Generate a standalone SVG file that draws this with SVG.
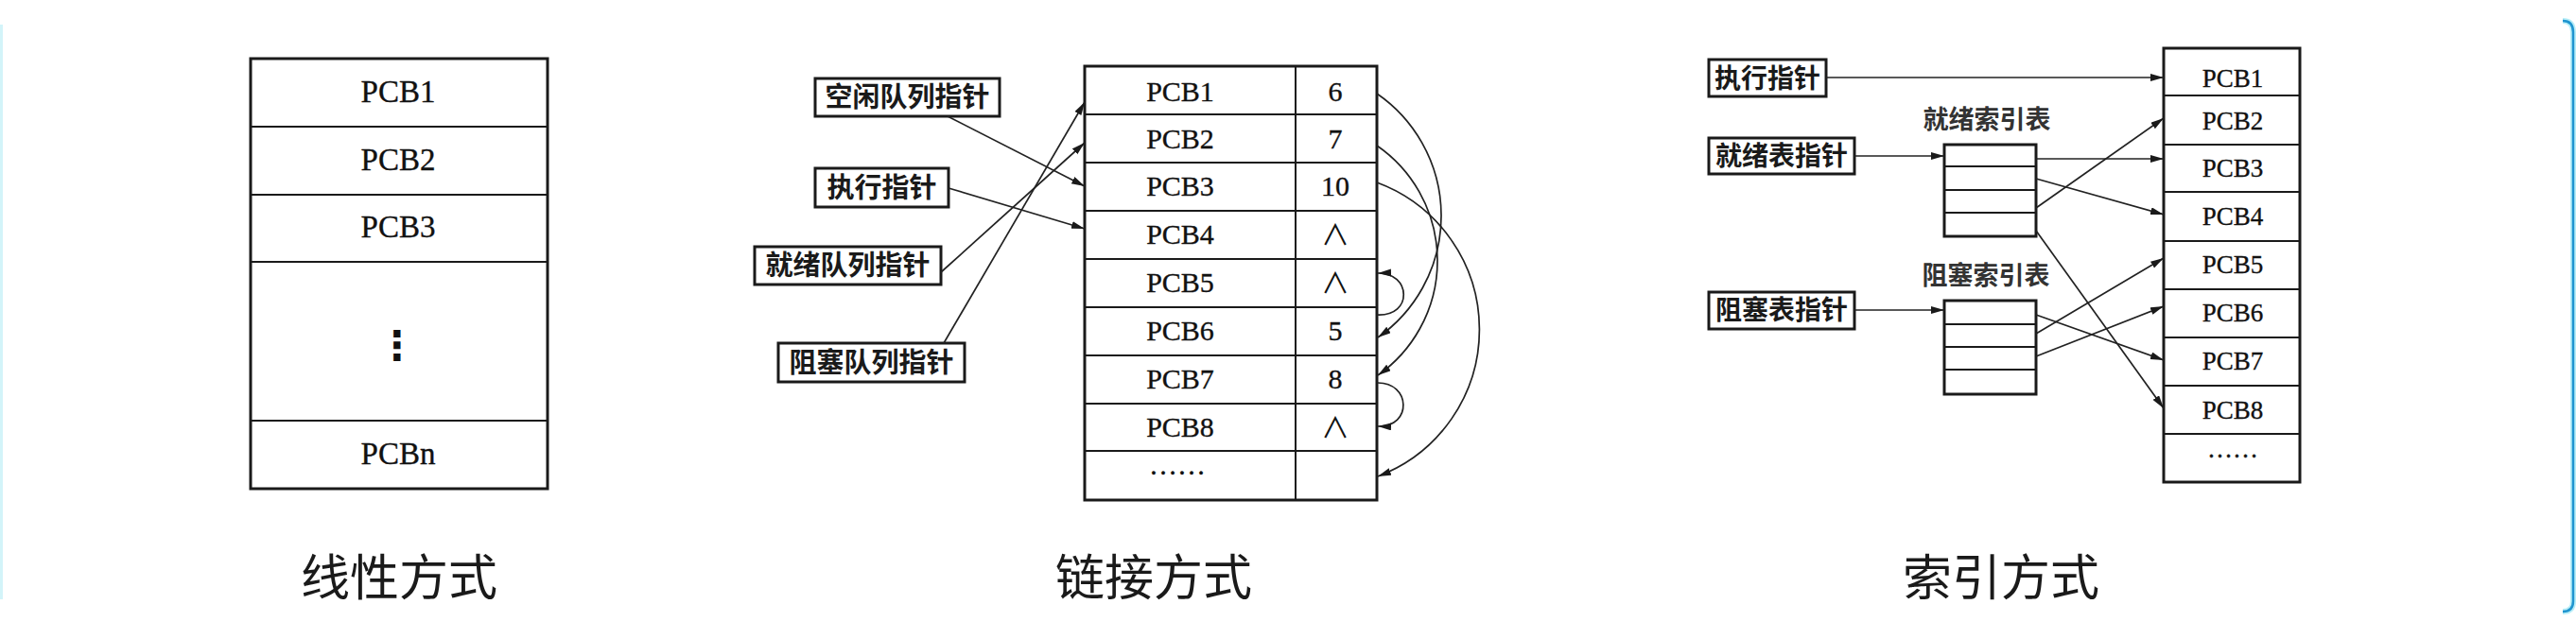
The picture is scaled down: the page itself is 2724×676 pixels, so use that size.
<svg xmlns="http://www.w3.org/2000/svg" width="2724" height="676" viewBox="0 0 2724 676">
<defs>
<style>
.pcb{font-family:"Liberation Serif","Times New Roman",serif;fill:#111;stroke:#111;stroke-width:0.35;text-anchor:middle}
.sym{font-family:"Noto Sans CJK SC","DejaVu Sans",sans-serif;fill:#111;text-anchor:middle}
.dots{font-family:"DejaVu Sans",sans-serif;fill:#111;text-anchor:middle;font-weight:bold}
.lbl{font-family:"Noto Sans CJK SC",sans-serif;font-weight:bold;fill:#1a1a1a;text-anchor:middle}
.tl{font-family:"Noto Sans CJK SC",sans-serif;font-weight:bold;fill:#333;text-anchor:middle;font-size:27px}
.cap{font-family:"Noto Sans CJK SC",sans-serif;font-size:52px;fill:#1a1a1a;text-anchor:middle}
.outer{fill:#fff;stroke:#1a1a1a;stroke-width:3}
.inner{stroke:#1a1a1a;stroke-width:2;fill:none}
.box{fill:#fff;stroke:#1a1a1a;stroke-width:3}
.conn{stroke:#222;stroke-width:1.7;fill:none;marker-end:url(#ah)}
</style>
<marker id="ah" markerUnits="userSpaceOnUse" markerWidth="16" markerHeight="10" refX="14" refY="4" orient="auto">
<path d="M0,0 L14,4 L0,8 z" fill="#1a1a1a"/>
</marker>
</defs>
<rect x="0" y="0" width="2724" height="676" fill="#fff"/>
<!-- frame edges -->
<line x1="1.5" y1="26" x2="1.5" y2="634" stroke="#d3f4f9" stroke-width="3"/>
<path d="M2710,22 Q2721,22 2721,34 L2721,636 Q2721,647 2710,647" fill="none" stroke="#b8eef8" stroke-width="6"/>
<path d="M2710,22 Q2721,22 2721,34 L2721,636 Q2721,647 2710,647" fill="none" stroke="#1f95d0" stroke-width="2.5"/>

<!-- Linear -->
<g id="linear-table">
<rect class="outer" x="265" y="62" width="314" height="455"/>
<line class="inner" x1="265" y1="134" x2="579" y2="134"/>
<line class="inner" x1="265" y1="206" x2="579" y2="206"/>
<line class="inner" x1="265" y1="277" x2="579" y2="277"/>
<line class="inner" x1="265" y1="445" x2="579" y2="445"/>
<text class="pcb" x="421" y="108" font-size="33">PCB1</text>
<text class="pcb" x="421" y="180" font-size="33">PCB2</text>
<text class="pcb" x="421" y="251" font-size="33">PCB3</text>
<text class="dots" x="420" y="380" font-size="42">⋮</text>
<text class="pcb" x="421" y="491" font-size="33">PCBn</text>
</g>
<g id="cap-linear"><text class="cap" x="422" y="630">线性方式</text></g>

<!-- Linked -->
<g id="linked-table">
<rect class="outer" x="1147" y="70" width="309" height="459"/>
<line class="inner" x1="1370" y1="70" x2="1370" y2="529"/>
<line class="inner" x1="1147" y1="121" x2="1456" y2="121"/>
<line class="inner" x1="1147" y1="172" x2="1456" y2="172"/>
<line class="inner" x1="1147" y1="223" x2="1456" y2="223"/>
<line class="inner" x1="1147" y1="274" x2="1456" y2="274"/>
<line class="inner" x1="1147" y1="325" x2="1456" y2="325"/>
<line class="inner" x1="1147" y1="376" x2="1456" y2="376"/>
<line class="inner" x1="1147" y1="427" x2="1456" y2="427"/>
<line class="inner" x1="1147" y1="477" x2="1456" y2="477"/>
<g font-size="30">
<text class="pcb" x="1248" y="107">PCB1</text><text class="pcb" x="1412" y="107">6</text>
<text class="pcb" x="1248" y="157">PCB2</text><text class="pcb" x="1412" y="157">7</text>
<text class="pcb" x="1248" y="207">PCB3</text><text class="pcb" x="1412" y="207">10</text>
<text class="pcb" x="1248" y="258">PCB4</text><text class="sym" x="1412" y="259">∧</text>
<text class="pcb" x="1248" y="309">PCB5</text><text class="sym" x="1412" y="310">∧</text>
<text class="pcb" x="1248" y="360">PCB6</text><text class="pcb" x="1412" y="360">5</text>
<text class="pcb" x="1248" y="411">PCB7</text><text class="pcb" x="1412" y="411">8</text>
<text class="pcb" x="1248" y="462">PCB8</text><text class="sym" x="1412" y="463">∧</text>
<text class="pcb" x="1245" y="502">……</text>
</g>
</g>
<g id="lk-free"><rect class="box" x="862" y="83" width="195" height="40"/><text class="lbl" x="959.5" y="113" font-size="29">空闲队列指针</text></g>
<g id="lk-run"><rect class="box" x="862" y="178" width="141" height="41"/><text class="lbl" x="932.5" y="209" font-size="29">执行指针</text></g>
<g id="lk-ready"><rect class="box" x="798" y="261" width="197" height="40"/><text class="lbl" x="896.5" y="291" font-size="29">就绪队列指针</text></g>
<g id="lk-block"><rect class="box" x="823" y="363" width="197" height="41"/><text class="lbl" x="921.5" y="394" font-size="29">阻塞队列指针</text></g>
<g id="cap-linked"><text class="cap" x="1220" y="630">链接方式</text></g>

<!-- Index -->
<g id="ix-run"><rect class="box" x="1807" y="63" width="124" height="39"/><text class="lbl" x="1869" y="93" font-size="28">执行指针</text></g>
<g id="ix-ready"><rect class="box" x="1807" y="146" width="154" height="38"/><text class="lbl" x="1884" y="175" font-size="28">就绪表指针</text></g>
<g id="ix-block"><rect class="box" x="1807" y="309" width="154" height="39"/><text class="lbl" x="1884" y="338" font-size="28">阻塞表指针</text></g>
<g id="ready-index">
<text class="tl" x="2101" y="136">就绪索引表</text>
<rect class="outer" x="2056" y="153" width="97" height="97"/>
<line class="inner" x1="2056" y1="176" x2="2153" y2="176"/>
<line class="inner" x1="2056" y1="201" x2="2153" y2="201"/>
<line class="inner" x1="2056" y1="225" x2="2153" y2="225"/>
</g>
<g id="block-index">
<text class="tl" x="2100" y="301">阻塞索引表</text>
<rect class="outer" x="2056" y="318" width="97" height="99"/>
<line class="inner" x1="2056" y1="343" x2="2153" y2="343"/>
<line class="inner" x1="2056" y1="367" x2="2153" y2="367"/>
<line class="inner" x1="2056" y1="391" x2="2153" y2="391"/>
</g>
<g id="index-pcb-table">
<rect class="outer" x="2288" y="51" width="144" height="459"/>
<line class="inner" x1="2288" y1="101" x2="2432" y2="101"/>
<line class="inner" x1="2288" y1="153" x2="2432" y2="153"/>
<line class="inner" x1="2288" y1="203" x2="2432" y2="203"/>
<line class="inner" x1="2288" y1="255" x2="2432" y2="255"/>
<line class="inner" x1="2288" y1="306" x2="2432" y2="306"/>
<line class="inner" x1="2288" y1="357" x2="2432" y2="357"/>
<line class="inner" x1="2288" y1="408" x2="2432" y2="408"/>
<line class="inner" x1="2288" y1="459" x2="2432" y2="459"/>
<g font-size="27">
<text class="pcb" x="2361" y="92">PCB1</text>
<text class="pcb" x="2361" y="137">PCB2</text>
<text class="pcb" x="2361" y="187">PCB3</text>
<text class="pcb" x="2361" y="238">PCB4</text>
<text class="pcb" x="2361" y="289">PCB5</text>
<text class="pcb" x="2361" y="340">PCB6</text>
<text class="pcb" x="2361" y="391">PCB7</text>
<text class="pcb" x="2361" y="443">PCB8</text>
<text class="pcb" x="2361" y="484">……</text>
</g>
</g>
<g id="cap-index"><text class="cap" x="2116" y="630">索引方式</text></g>

<!-- Connectors -->
<g id="connectors">
<line class="conn" x1="1002" y1="123" x2="1147" y2="197"/>
<line class="conn" x1="1003" y1="199" x2="1147" y2="242"/>
<line class="conn" x1="995" y1="288" x2="1147" y2="151"/>
<line class="conn" x1="998" y1="363" x2="1147" y2="108"/>
<path class="conn" d="M1456,99 A157,157 0 0 1 1457,357"/>
<path class="conn" d="M1456,154 A148,148 0 0 1 1457,397"/>
<path class="conn" d="M1456,193 A166,166 0 0 1 1457,504"/>
<path class="conn" d="M1456,333 C1495,335 1492,288 1457,289"/>
<path class="conn" d="M1456,405 C1492,404 1494,452 1457,451"/>
<line class="conn" x1="1931" y1="82" x2="2288" y2="82"/>
<line class="conn" x1="1961" y1="165" x2="2056" y2="165"/>
<line class="conn" x1="1961" y1="328" x2="2056" y2="328"/>
<line class="conn" x1="2153" y1="168" x2="2288" y2="168"/>
<line class="conn" x1="2153" y1="189" x2="2288" y2="227"/>
<line class="conn" x1="2153" y1="220" x2="2288" y2="125"/>
<line class="conn" x1="2153" y1="244" x2="2288" y2="432"/>
<line class="conn" x1="2153" y1="333" x2="2288" y2="381"/>
<line class="conn" x1="2153" y1="353" x2="2288" y2="273"/>
<line class="conn" x1="2153" y1="377" x2="2288" y2="324"/>
</g>
</svg>
